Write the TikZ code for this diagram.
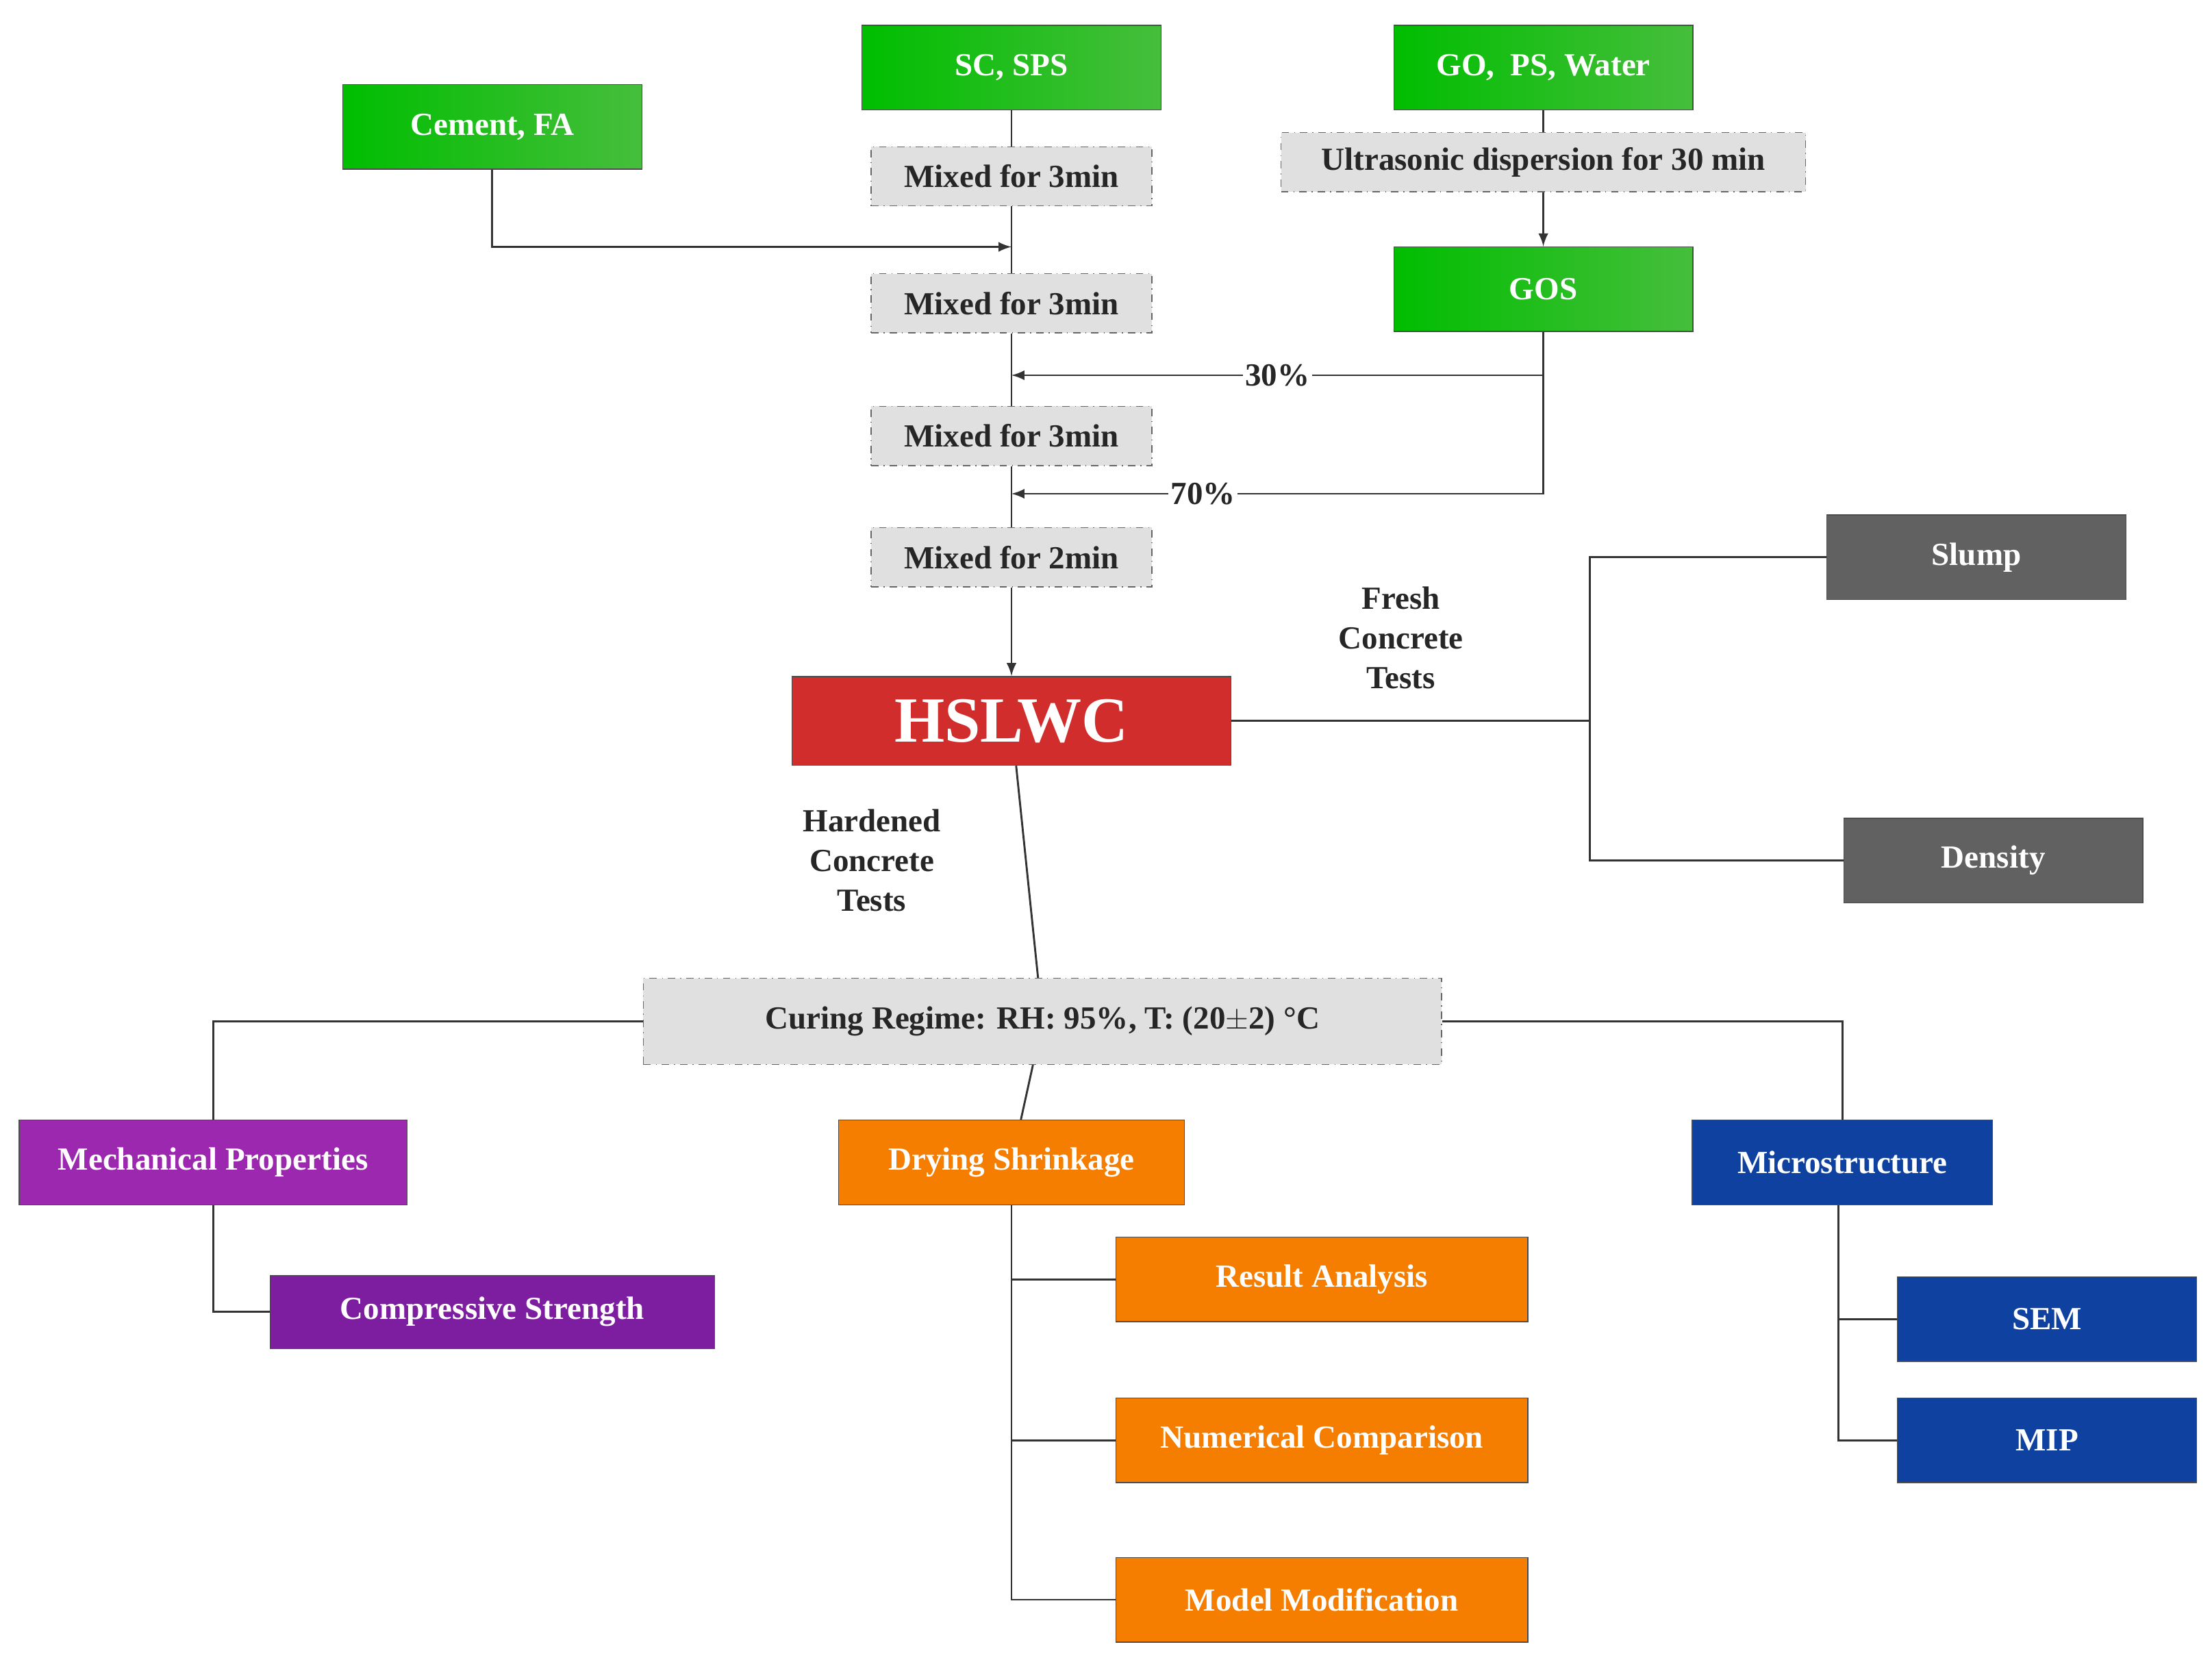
\documentclass[tikz,border=0pt]{standalone}
\usepackage{fontspec}
\setmainfont{Liberation Serif}
\begin{document}
\begin{tikzpicture}[x=0.02cm,y=-0.02cm,
 box/.style={draw=black!70,minimum width=4.24cm,minimum height=1.2cm,text=white,font=\fontsize{13}{15}\selectfont\bfseries,inner sep=0pt},
 grn/.style={box,left color=green!70!black!90,right color=green!60!black!60!white!90!green},
 mix/.style={draw=black!60,dash dot,fill=black!12,minimum width=3.98cm,minimum height=0.84cm,font=\fontsize{13}{15}\selectfont\bfseries,text=black!85,inner sep=0pt},
 gry/.style={box,fill=black!62},
 pur/.style={box,fill={rgb,255:red,155;green,40;blue,175}},
 org/.style={box,fill={rgb,255:red,245;green,125;blue,0},minimum width=5.84cm},
 blu/.style={box,fill={rgb,255:red,15;green,65;blue,160}},
 lbl/.style={font=\fontsize{13}{16}\selectfont\bfseries,text=black!85,align=center},
 ln/.style={draw=black!80,line width=0.8pt},
 ar/.style={ln,-latex}]
\useasboundingbox (0,0) rectangle (1568,1178);
\definecolor{g1}{RGB}{0,190,0}\definecolor{g2}{RGB}{70,190,60}
\tikzset{grn/.style={box,left color=g1,right color=g2}}
\node[grn] (cem) at (349,90) {Cement, FA};
\node[grn] (sc) at (717,48) {SC, SPS};
\node[grn] (go) at (1094,48) {GO,\ \ PS, Water};
\node[mix] (m1) at (717,125) {Mixed for 3min};
\node[mix,minimum width=7.44cm] (us) at (1094,115) {Ultrasonic dispersion for 30 min};
\node[mix] (m2) at (717,215) {Mixed for 3min};
\node[grn] (gos) at (1094,205) {GOS};
\node[mix] (m3) at (717,309) {Mixed for 3min};
\node[mix] (m4) at (717,395) {Mixed for 2min};
\node[box,fill={rgb,255:red,210;green,45;blue,45},minimum width=6.22cm,minimum height=1.26cm,font=\fontsize{26}{28}\selectfont\bfseries] (h) at (717,511) {HSLWC};
\node[lbl] (fresh) at (993,452) {Fresh\\Concrete\\Tests};
\node[gry] (slump) at (1401,395) {Slump};
\node[gry] (dens) at (1413,610) {Density};
\node[lbl] (hard) at (618,610) {Hardened\\Concrete\\Tests};
\node[mix,minimum width=11.32cm,minimum height=1.22cm] (cur) at (739,724) {Curing Regime: RH: 95\%, T: (20$\pm$2) °C};
\node[pur,minimum width=5.5cm] (mech) at (151,824) {Mechanical Properties};
\node[box,fill={rgb,255:red,125;green,30;blue,160},minimum width=6.3cm,minimum height=1.04cm] (comp) at (349,930) {Compressive Strength};
\node[org,minimum width=4.9cm] (dry) at (717,824) {Drying Shrinkage};
\node[org] (res) at (937,907) {Result Analysis};
\node[org] (num) at (937,1021) {Numerical Comparison};
\node[org] (mod) at (937,1134) {Model Modification};
\node[blu,minimum width=4.26cm] (mic) at (1306,824) {Microstructure};
\node[blu] (sem) at (1451,935) {SEM};
\node[blu] (mip) at (1451,1021) {MIP};
\coordinate (c1) at (717,175);
\draw[ln] (sc) -- (m1) -- (m2) -- (m3) -- (m4);
\draw[ar] (m4) -- (h);
\draw[ar] (cem.south) |- (c1);
\draw[ln] (go) -- (us); \draw[ar] (us) -- (gos);
\coordinate (p30) at (717,266); \coordinate (p70) at (717,350);
\draw[ar] (gos.south) |- node[pos=0.75,fill=white,inner sep=1pt,lbl]{30\%} (p30);
\draw[ar] (gos.south) |- node[pos=0.82,fill=white,inner sep=1pt,lbl]{70\%} (p70);
\coordinate (fx) at (1127,511);
\draw[ln] (h.east) -- (fx);
\draw[ln] (fx) |- (slump.west); \draw[ln] (fx) |- (dens.west);
\draw[ln] (h) -- (cur);
\draw[ln] (cur.west) -| (mech.north);
\draw[ln] (cur.east) -| (mic.north);
\draw[ln] (cur) -- (dry);
\draw[ln] (mech.south) |- (comp.west);
\draw[ln] (dry.south) |- (mod.west);
\draw[ln] (dry.south) |- (res.west);
\draw[ln] (dry.south) |- (num.west);
\draw[ln] ([xshift=-3*0.02cm]mic.south) |- (mip.west);
\draw[ln] ([xshift=-3*0.02cm]mic.south) |- (sem.west);
\end{tikzpicture}
\end{document}
